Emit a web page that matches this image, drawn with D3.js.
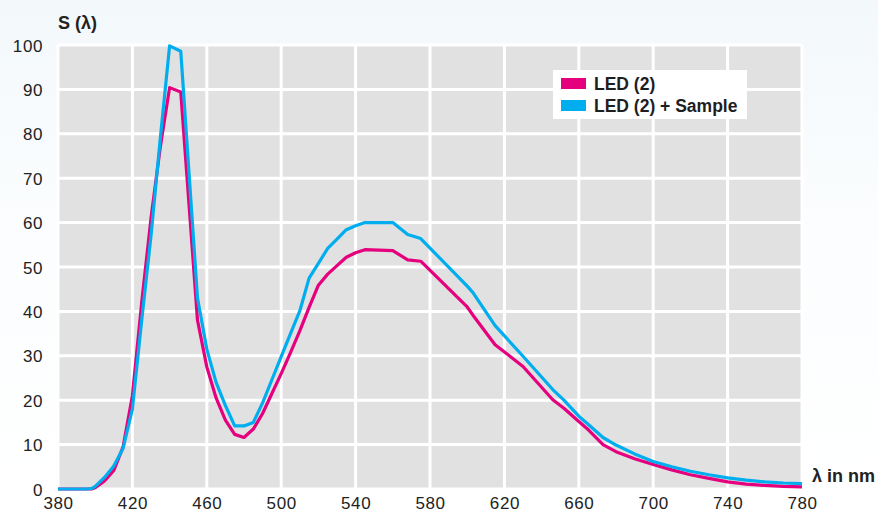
<!DOCTYPE html>
<html>
<head>
<meta charset="utf-8">
<script src="https://cdn.jsdelivr.net/npm/d3@7"></script>
<style>
  html, body { margin: 0; padding: 0; }
  body { width: 878px; height: 514px; overflow: hidden;
         background: linear-gradient(#f3f8fb 0px, #fbfdfe 220px, #ffffff 514px); }
  #chart svg { display: block; }
  text { font-family: "Liberation Sans", Arial, sans-serif; fill: #222; }
</style>
</head>
<body>
<div id="chart"><svg></svg></div>
<script>
// wavelengths (nm) shared by both series
var wavelengths = [380, 390, 395, 398, 400, 405, 410, 415, 420, 425, 430, 435, 440, 446,
    455, 460, 465, 470, 475, 480, 485, 490, 495, 500, 505, 510, 515, 520, 525, 530, 535,
    540, 545, 560, 568, 575, 600, 603, 615, 630, 646, 652, 660, 665, 673, 680, 690, 700,
    710, 720, 730, 740, 750, 760, 770, 780];

var led = [0, 0, 0, 0, 0.3, 1.8, 4.2, 9.5, 21, 42, 61, 77, 90.4, 89.4,
    38, 27.5, 20.5, 15.5, 12.3, 11.6, 13.5, 17, 21.5, 26, 30.7, 35.6, 40.9, 45.9, 48.4, 50.3, 52.2,
    53.2, 53.9, 53.7, 51.6, 51.3, 41, 39.2, 32.5, 27.6, 20.1, 18.2, 15.2, 13.4, 10, 8.4, 6.8, 5.5,
    4.3, 3.2, 2.4, 1.6, 1.1, 0.8, 0.6, 0.5];

var ledSample = [0, 0, 0, 0.1, 0.6, 2.6, 5.2, 9.2, 18, 38, 57, 79, 99.8, 98.6,
    43, 31.5, 24, 18.8, 14.2, 14.2, 15, 19.4, 24.6, 29.8, 35, 40.1, 47.5, 50.8, 54.2, 56.3, 58.4,
    59.3, 60, 60, 57.3, 56.4, 45.7, 44.3, 36.8, 29.9, 22.4, 20, 16.4, 14.6, 11.6, 9.9, 7.9, 6.2,
    5.0, 4.0, 3.2, 2.5, 2.0, 1.6, 1.35, 1.2];

var xTicks = [380, 420, 460, 500, 540, 580, 620, 660, 700, 740, 780];
var yTicks = [0, 10, 20, 30, 40, 50, 60, 70, 80, 90, 100];

var seriesNames = ["LED (2)", "LED (2) + Sample"];
var seriesColors = ["#e5007d", "#00aeef"];

var chartWidth = 878, chartHeight = 514;
var margin = { top: 45, right: 76, bottom: 25, left: 58 };

var svg = d3.select("#chart svg").attr("width", chartWidth).attr("height", chartHeight);

var x = d3.scaleLinear().domain([380, 780]).range([margin.left, chartWidth - margin.right]),
    y = d3.scaleLinear().domain([0, 100]).range([chartHeight - margin.bottom, margin.top]);

// grey plot area
svg.append("rect")
    .attr("x", x(380)).attr("y", y(100))
    .attr("width", x(780) - x(380)).attr("height", y(0) - y(100))
    .attr("fill", "#e1e1e1");

// white grid
svg.append("g").selectAll("line")
    .data(xTicks)
    .enter().append("line")
    .attr("x1", function (d) { return x(d); })
    .attr("x2", function (d) { return x(d); })
    .attr("y1", y(100)).attr("y2", y(0))
    .attr("stroke", "#fff").attr("stroke-width", 3);

svg.append("g").selectAll("line")
    .data(yTicks)
    .enter().append("line")
    .attr("x1", x(380)).attr("x2", x(780))
    .attr("y1", function (d) { return y(d); })
    .attr("y2", function (d) { return y(d); })
    .attr("stroke", "#fff").attr("stroke-width", 3);

// axes: just the labels, no domain/ticks
var xAxis = svg.append("g")
    .attr("transform", "translate(0," + y(0) + ")")
    .call(d3.axisBottom(x).tickValues(xTicks).tickSize(0).tickPadding(8));
var yAxis = svg.append("g")
    .attr("transform", "translate(" + x(380) + ",0)")
    .call(d3.axisLeft(y).tickValues(yTicks).tickSize(0).tickPadding(15));

[xAxis, yAxis].forEach(function (a) {
    a.select(".domain").remove();
    a.selectAll("text")
        .style("font-family", "'Liberation Sans', Arial, sans-serif")
        .style("font-size", "17px")
        .style("letter-spacing", "0.6px")
        .attr("fill", "#2a2a2a");
});
yAxis.selectAll("text").attr("dy", "0.36em");

// axis titles
svg.append("text").attr("x", 58).attr("y", 29)
    .style("font-size", "18px").style("font-weight", "bold")
    .text("S (λ)");
svg.append("text").attr("x", 812).attr("y", 482)
    .style("font-size", "18px").style("font-weight", "bold")
    .text("λ in nm");

// lines
var line = d3.line()
    .x(function (d) { return x(d.nm); })
    .y(function (d) { return y(d.v); });

[led, ledSample].forEach(function (vals, i) {
    var pts = wavelengths.map(function (w, j) { return { nm: w, v: vals[j] }; });
    svg.append("path")
        .datum(pts)
        .attr("d", line)
        .attr("fill", "none")
        .attr("stroke", seriesColors[i])
        .attr("stroke-width", 3.2)
        .attr("stroke-linejoin", "round");
});

// legend
var legend = svg.append("g").attr("transform", "translate(553,70)");
legend.append("rect").attr("width", 194).attr("height", 49).attr("fill", "#fff");
seriesNames.forEach(function (name, i) {
    legend.append("rect")
        .attr("x", 8).attr("y", 8 + i * 22)
        .attr("width", 25).attr("height", 11)
        .attr("fill", seriesColors[i]);
    legend.append("text")
        .attr("x", 41).attr("y", 19.5 + i * 22)
        .style("font-size", "17.5px").style("font-weight", "bold")
        .style("fill", "#1e1e1e")
        .text(name);
});
</script>
</body>
</html>
